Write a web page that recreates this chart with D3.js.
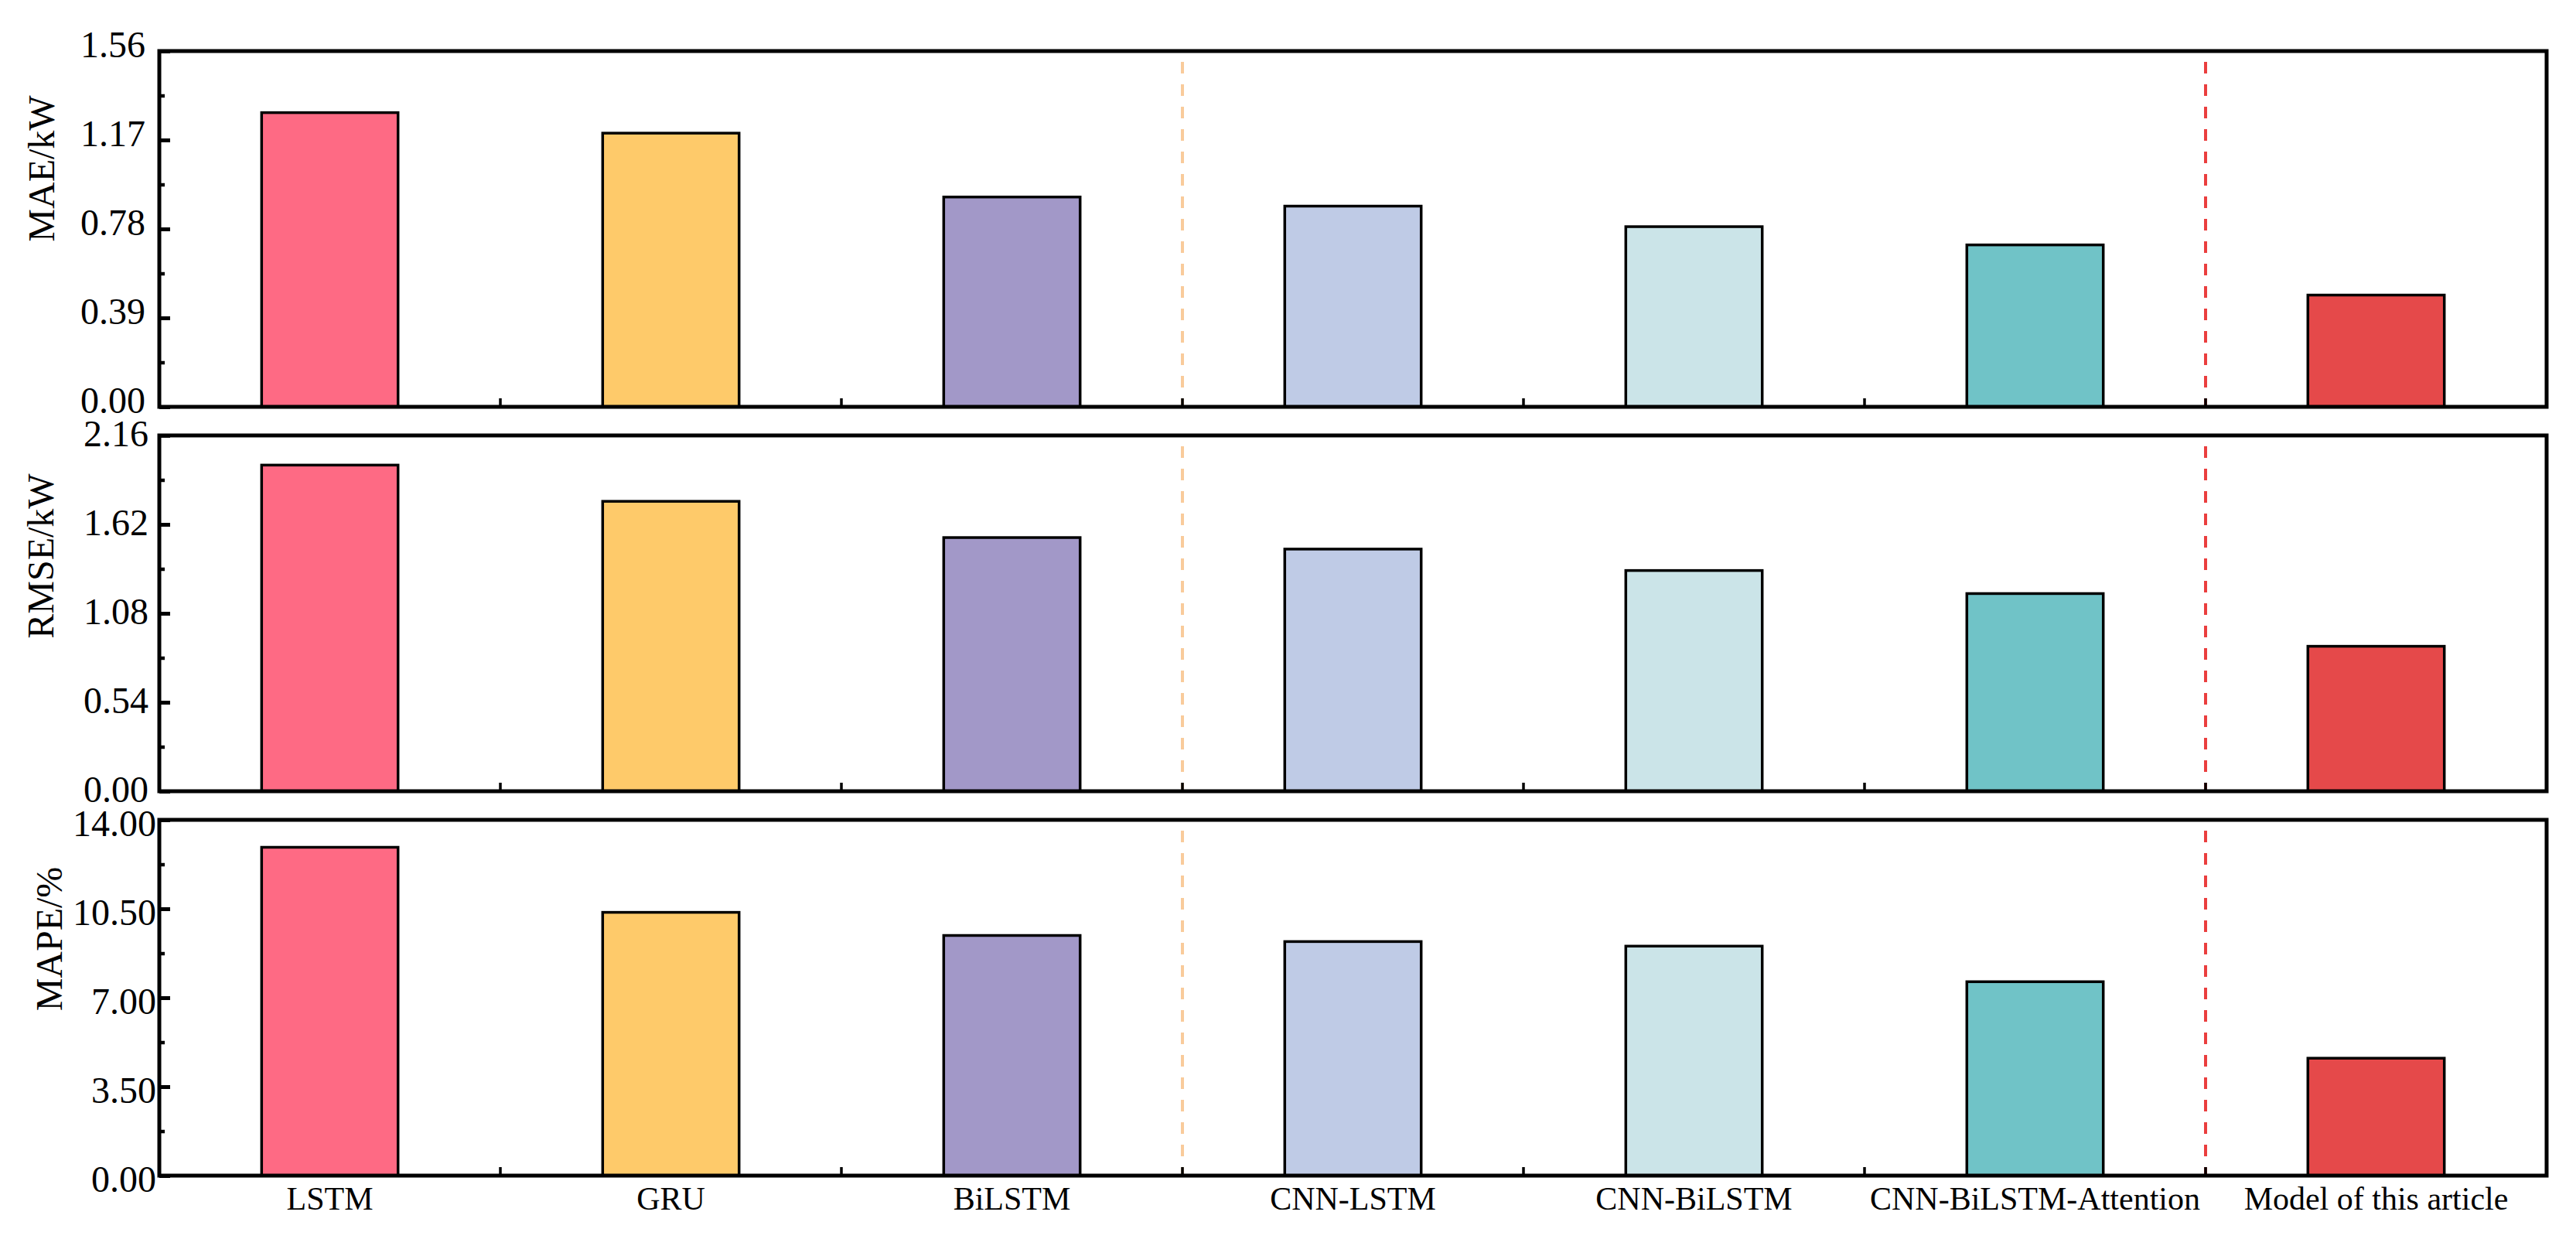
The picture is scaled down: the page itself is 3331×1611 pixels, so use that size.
<!DOCTYPE html>
<html>
<head>
<meta charset="utf-8">
<script src="https://cdn.jsdelivr.net/npm/d3@7/dist/d3.min.js"></script>
<style>
  html, body { margin: 0; padding: 0; background: #ffffff; }
  svg { display: block; }
</style>
</head>
<body>
<script>
// ---------------- data ----------------
const categories = ["LSTM", "GRU", "BiLSTM", "CNN-LSTM", "CNN-BiLSTM", "CNN-BiLSTM-Attention", "Model of this article"];
const maeValues  = [1.29, 1.20, 0.92, 0.88, 0.79, 0.71, 0.49];
const rmseValues = [1.98, 1.76, 1.54, 1.47, 1.34, 1.20, 0.88];
const mapeValues = [12.92, 10.36, 9.45, 9.21, 9.03, 7.63, 4.62];
const maeTicks  = [0, 0.39, 0.78, 1.17, 1.56];
const rmseTicks = [0, 0.54, 1.08, 1.62, 2.16];
const mapeTicks = [0, 3.50, 7.00, 10.50, 14.00];
const metricTitles = ["MAE/kW", "RMSE/kW", "MAPE/%"];
const barColors = ["#FE6A84", "#FECA6A", "#A298C8", "#BFCBE6", "#CBE4E8", "#70C3C7", "#E5494A"];
const dividerAfter = ["BiLSTM", "CNN-BiLSTM-Attention"];
const dividerColors = ["#F9CB9B", "#EA3E3E"];

// ---------------- layout ----------------
const W = 3331, H = 1611;
const left = 206, right = 3293;
const panelH = 460;
const panels = [
  { top: 66,   values: maeValues,  ticks: maeTicks,  title: metricTitles[0], labelEnd: 188, labelOff: -10, titleX: 70, titleY: 218 },
  { top: 563,  values: rmseValues, ticks: rmseTicks, title: metricTitles[1], labelEnd: 192, labelOff: -4,  titleX: 69, titleY: 719 },
  { top: 1060, values: mapeValues, ticks: mapeTicks, title: metricTitles[2], labelEnd: 202, labelOff: 3,   titleX: 80, titleY: 1214 }
];
const FONT = "'Liberation Serif', 'Times New Roman', 'DejaVu Serif', serif";

const svg = d3.select("body").append("svg")
  .attr("width", W).attr("height", H)
  .attr("viewBox", `0 0 ${W} ${H}`);

const x = d3.scaleBand().domain(categories).range([left, right])
  .paddingInner(0.6).paddingOuter(0.3);
const step = x.step();
const boundaryX = c => x(c) - step * 0.3;               // left edge of a category slot
const afterX = c => x(c) + x.bandwidth() + step * 0.3;  // right edge of a category slot

panels.forEach((p, pi) => {
  const bottom = p.top + panelH;
  const y = d3.scaleLinear().domain([p.ticks[0], p.ticks[p.ticks.length - 1]]).range([bottom, p.top]);
  const g = svg.append("g");

  // dashed divider lines
  dividerAfter.forEach((c, i) => {
    g.append("line")
      .attr("x1", afterX(c)).attr("x2", afterX(c))
      .attr("y1", p.top + 14).attr("y2", bottom)
      .attr("stroke", dividerColors[i]).attr("stroke-width", 4)
      .attr("stroke-dasharray", "15,14");
  });

  // bars
  g.selectAll("rect.bar").data(p.values).join("rect")
    .attr("class", "bar")
    .attr("x", (d, i) => x(categories[i]))
    .attr("width", x.bandwidth())
    .attr("y", d => y(d))
    .attr("height", d => y(0) - y(d))
    .attr("fill", (d, i) => barColors[i])
    .attr("stroke", "#000").attr("stroke-width", 3.5);

  // minor ticks
  const minor = [];
  for (let i = 0; i < p.ticks.length - 1; i++) minor.push((p.ticks[i] + p.ticks[i + 1]) / 2);
  const minorAxis = d3.axisLeft(y).tickValues(minor).tickSize(-7).tickFormat("");
  const gm = g.append("g").attr("transform", `translate(${left},0)`).call(minorAxis);
  gm.select(".domain").remove();
  gm.selectAll(".tick line").attr("stroke", "#000").attr("stroke-width", 4.5);

  // major ticks + labels
  const majorAxis = d3.axisLeft(y).tickValues(p.ticks).tickSize(-14).tickPadding(left - p.labelEnd)
    .tickFormat(d3.format(".2f"));
  const ga = g.append("g").attr("transform", `translate(${left},0)`).call(majorAxis);
  ga.select(".domain").remove();
  ga.selectAll(".tick line").attr("stroke", "#000").attr("stroke-width", 5);
  ga.selectAll(".tick text")
    .attr("font-family", FONT).attr("font-size", 48).attr("fill", "#000")
    .attr("dy", null)
    .attr("y", p.labelOff + 17);

  // bottom ticks at category boundaries
  g.selectAll("line.xt").data(categories.slice(1)).join("line")
    .attr("class", "xt")
    .attr("x1", c => boundaryX(c)).attr("x2", c => boundaryX(c))
    .attr("y1", bottom).attr("y2", bottom - 11)
    .attr("stroke", "#000").attr("stroke-width", 3.5);

  // frame
  g.append("rect")
    .attr("x", left).attr("y", p.top)
    .attr("width", right - left).attr("height", panelH)
    .attr("fill", "none").attr("stroke", "#000").attr("stroke-width", 5);

  // y title
  g.append("text")
    .attr("transform", `translate(${p.titleX},${p.titleY}) rotate(-90)`)
    .attr("text-anchor", "middle")
    .attr("font-family", FONT).attr("font-size", 48).attr("fill", "#000")
    .text(p.title);

  // category labels under the last panel
  if (pi === panels.length - 1) {
    g.selectAll("text.xl").data(categories).join("text")
      .attr("class", "xl")
      .attr("x", c => x(c) + x.bandwidth() / 2)
      .attr("y", 1564)
      .attr("text-anchor", "middle")
      .attr("font-family", FONT).attr("font-size", 42).attr("fill", "#000")
      .text(c => c);
  }
});
</script>
</body>
</html>
